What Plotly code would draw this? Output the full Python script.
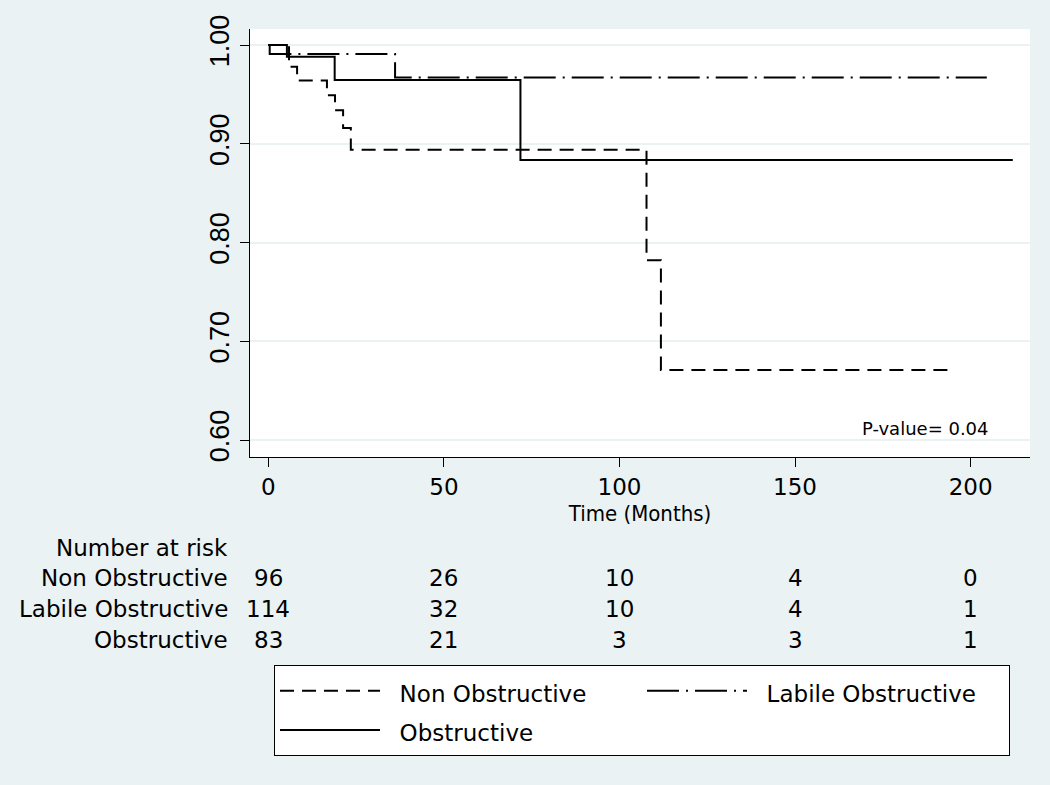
import plotly.graph_objects as go

# ---- Kaplan-Meier step data (time in months, survival probability) ----
non_obs_time = [0, 5.9, 8.2, 16.7, 19.0, 21.3, 23.5, 107.7, 111.8, 195.5]
non_obs_surv = [1.0, 0.978, 0.964, 0.949, 0.934, 0.916, 0.894, 0.782, 0.671, 0.671]

labile_time = [0, 0.4, 36.1, 204.6]
labile_surv = [1.0, 0.991, 0.967, 0.967]

obs_time = [0, 5.3, 18.9, 71.8, 212.0]
obs_surv = [1.0, 0.988, 0.9645, 0.8835, 0.8835]

group_names = ["Non Obstructive", "Labile Obstructive", "Obstructive"]

# ---- Number at risk table ----
risk_times = [0, 50, 100, 150, 200]
risk_non_obs = [96, 26, 10, 4, 0]
risk_labile = [114, 32, 10, 4, 1]
risk_obs = [83, 21, 3, 3, 1]

x_ticks = [0, 50, 100, 150, 200]
y_ticks = [0.60, 0.70, 0.80, 0.90, 1.00]
y_ticklabels = ["0.60", "0.70", "0.80", "0.90", "1.00"]

p_value_text = "P-value= 0.04"

# ---- layout geometry (pixels) ----
W, H = 1050, 785
ML, MR, MT, MB = 250, 20, 29, 328
PH = H - MT - MB  # plot height in px


def py(y_px):
    """Convert a pixel row (from top) to paper y."""
    return (H - MB - y_px) / PH


def px(x_px):
    return (x_px - ML) / (W - ML - MR)


BG = "#EAF2F3"
FONT = "DejaVu Sans"

fig = go.Figure()

styles = [
    dict(color="black", width=2, dash="14px,8px"),
    dict(color="black", width=2, dash="32px,7px,2px,7px"),
    dict(color="black", width=2, dash="solid"),
]
series = [(non_obs_time, non_obs_surv), (labile_time, labile_surv), (obs_time, obs_surv)]

NBSP = "\u00a0"
for (t, s), name, st in zip(series, group_names, styles):
    legend_label = '<span style="font-size:23px">' + NBSP * 2 + name + "</span>"
    fig.add_trace(go.Scatter(x=t, y=s, mode="lines", name=legend_label,
                             line=dict(shape="hv", **st),
                             hovertemplate=name + ": %{y:.3f} at %{x} months<extra></extra>"))

annotations = []
# Number at risk header and row labels
annotations.append(dict(text="Number at risk", xref="paper", yref="paper",
                        x=px(230), y=py(548), xanchor="right", yanchor="middle",
                        showarrow=False, font=dict(family=FONT, size=23, color="black")))
row_y = [578, 609, 640]
for name, counts, ry in zip(group_names, [risk_non_obs, risk_labile, risk_obs], row_y):
    annotations.append(dict(text=name, xref="paper", yref="paper",
                            x=px(230), y=py(ry), xanchor="right", yanchor="middle",
                            showarrow=False, font=dict(family=FONT, size=23, color="black")))
    for tt, c in zip(risk_times, counts):
        annotations.append(dict(text=str(c), xref="x", yref="paper",
                                x=tt, y=py(ry), xanchor="center", yanchor="middle",
                                showarrow=False, font=dict(family=FONT, size=23, color="black")))

annotations.append(dict(text=p_value_text, xref="paper", yref="paper",
                        x=px(991), y=py(428), xanchor="right", yanchor="middle",
                        showarrow=False, font=dict(family=FONT, size=18, color="black")))

fig.update_layout(
    width=W, height=H,
    margin=dict(l=ML, r=MR, t=MT, b=MB, autoexpand=False),
    paper_bgcolor=BG, plot_bgcolor="white",
    font=dict(family=FONT, size=23, color="black"),
    showlegend=True,
    legend=dict(orientation="h", x=px(274), y=py(665), xanchor="left", yanchor="top",
                bgcolor="white", bordercolor="black", borderwidth=1,
                font=dict(family=FONT, size=28, color="black"),
                itemwidth=100, entrywidth=252, entrywidthmode="pixels",
                traceorder="normal"),
    annotations=annotations,
    xaxis=dict(range=[-5.21, 216.9], tickvals=x_ticks, ticks="outside", ticklen=9,
               tickcolor="black", tickwidth=1, showline=True, linecolor="black", linewidth=1,
               showgrid=False, zeroline=False,
               tickfont=dict(family=FONT, size=23, color="black"),
               title=dict(text="Time (Months)", standoff=7,
                          font=dict(family="DejaVu Sans Condensed, Liberation Sans Narrow, DejaVu Sans",
                                    size=22, color="black"))),
    yaxis=dict(range=[0.5828, 1.0162], tickvals=y_ticks, ticktext=y_ticklabels,
               ticks="outside", ticklen=9, tickcolor="black", tickwidth=1,
               showline=True, linecolor="black", linewidth=1,
               showgrid=True, gridcolor=BG, gridwidth=2, zeroline=False,
               tickangle=-90,
               tickfont=dict(family="Liberation Sans, Arial", size=27, color="black")),
)

fig.write_html("out.html", config={"displayModeBar": False},
               post_script="document.body.style.margin='0px';")
